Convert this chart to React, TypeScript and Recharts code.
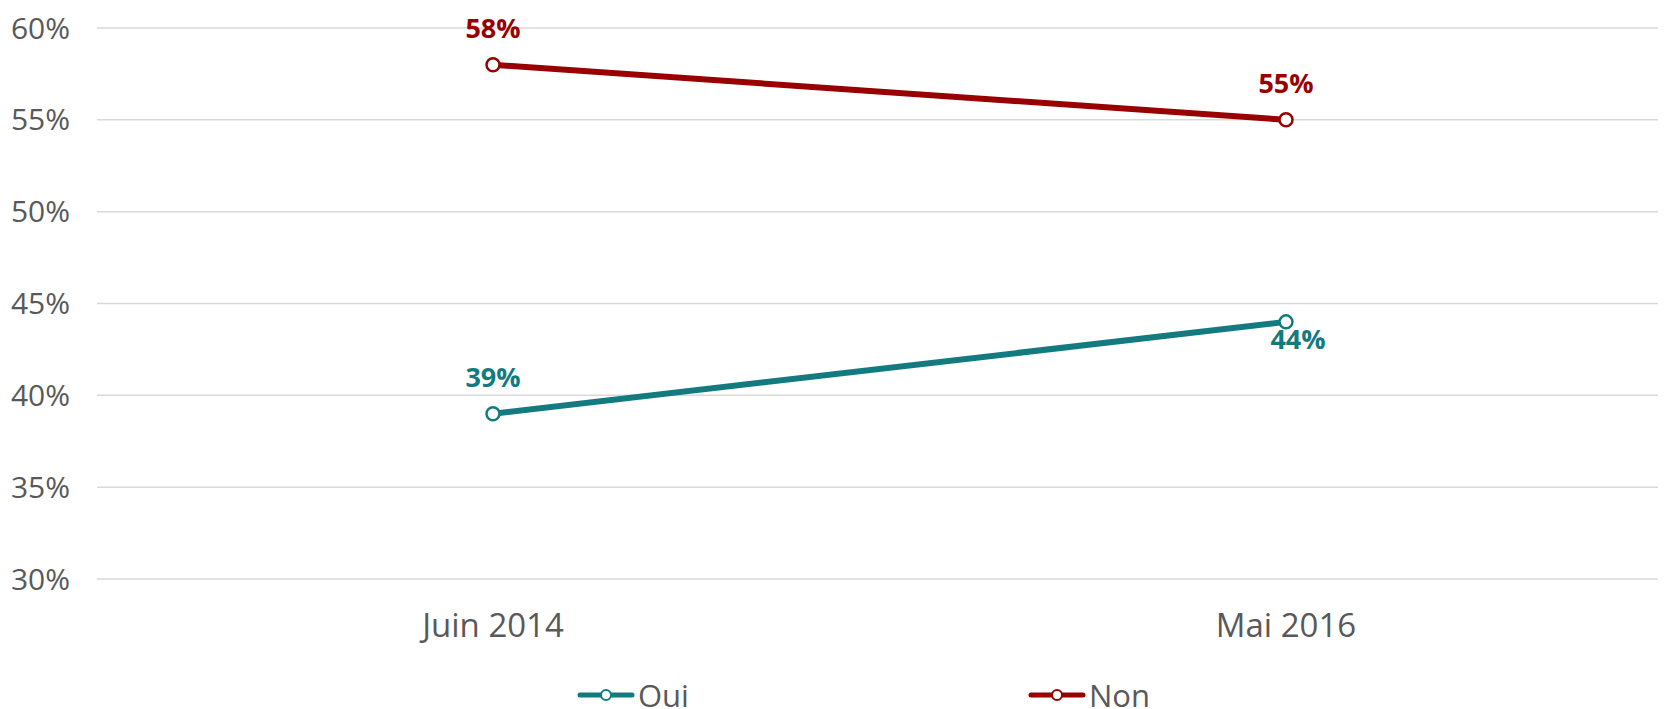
import { LineChart, Line, XAxis, YAxis, CartesianGrid, Legend, LabelList } from 'recharts';

// 数据
const periods = ['Juin 2014', 'Mai 2016'];
const ouiValues = [39, 44];
const nonValues = [58, 55];
const yTicks = [30, 35, 40, 45, 50, 55, 60];
const seriesOrder = ['Oui', 'Non'];

const OUI_COLOR = '#137B80';
const NON_COLOR = '#990000';
const TEXT_COLOR = '#595959';
const FONT = '"Open Sans", "Noto Sans", sans-serif';

const chartData = periods.map((period, i) => ({
  period,
  oui: ouiValues[i],
  non: nonValues[i],
}));

// 数据标签
const makeLabel = (color: string, below: number[]) => (props: any) => {
  const { x, y, value, index } = props;
  const isBelow = below.includes(index);
  return (
    <text
      x={x + (isBelow ? 12 : 0)}
      y={y + (isBelow ? 17 : -37)}
      textAnchor="middle"
      dominantBaseline="central"
      fill={color}
      fontFamily={FONT}
      fontWeight={700}
      fontSize={27}
    >
      {`${value}%`}
    </text>
  );
};

// 图例
const LegendContent = ({ payload }: any) => {
  const items = [...(payload || [])].sort(
    (a: any, b: any) => seriesOrder.indexOf(a.value) - seriesOrder.indexOf(b.value)
  );
  return (
    <div style={{ display: 'flex', paddingLeft: 577, height: 50, alignItems: 'flex-end' }}>
      {items.map((item: any) => (
        <div key={item.value} style={{ width: 451, height: 28, display: 'flex', alignItems: 'center' }}>
          <svg width={58} height={16} style={{ marginRight: 3 }}>
            <line x1={3} y1={8} x2={55} y2={8} stroke={item.color} strokeWidth={5} strokeLinecap="round" />
            <circle cx={29} cy={8} r={5} fill="#fff" stroke={item.color} strokeWidth={2} />
          </svg>
          <span style={{ fontFamily: FONT, fontSize: 31, color: TEXT_COLOR, lineHeight: '28px' }}>
            {item.value}
          </span>
        </div>
      ))}
    </div>
  );
};

export default function App() {
  return (
    <div style={{ margin: '-8px -8px 0 -8px', width: 1666, height: 709, overflow: 'hidden', background: '#fff' }}>
      <LineChart
        width={1682}
        height={709}
        data={chartData}
        margin={{ top: 28, right: 0, left: 0, bottom: 0 }}
      >
        <CartesianGrid vertical={false} stroke="#D9D9D9" strokeWidth={1.5} />
        <XAxis
          dataKey="period"
          axisLine={false}
          tickLine={false}
          height={80}
          tickMargin={29}
          padding={{ left: 396, right: 396 }}
          tick={{ fontSize: 33, fill: TEXT_COLOR, fontFamily: FONT }}
        />
        <YAxis
          domain={[30, 60]}
          ticks={yTicks}
          width={97}
          axisLine={false}
          tickLine={false}
          tickMargin={21}
          tickFormatter={(v: number) => `${v}%`}
          tick={{ fontSize: 30, fill: TEXT_COLOR, fontFamily: FONT }}
        />
        <Legend verticalAlign="bottom" height={50} content={<LegendContent />} />
        <Line
          type="linear"
          dataKey="oui"
          name="Oui"
          stroke={OUI_COLOR}
          strokeWidth={6}
          dot={{ r: 6.5, fill: '#fff', stroke: OUI_COLOR, strokeWidth: 2.5 }}
          activeDot={false}
          isAnimationActive={false}
        >
          <LabelList dataKey="oui" content={makeLabel(OUI_COLOR, [1])} />
        </Line>
        <Line
          type="linear"
          dataKey="non"
          name="Non"
          stroke={NON_COLOR}
          strokeWidth={6}
          dot={{ r: 6.5, fill: '#fff', stroke: NON_COLOR, strokeWidth: 2.5 }}
          activeDot={false}
          isAnimationActive={false}
        >
          <LabelList dataKey="non" content={makeLabel(NON_COLOR, [])} />
        </Line>
      </LineChart>
    </div>
  );
}
